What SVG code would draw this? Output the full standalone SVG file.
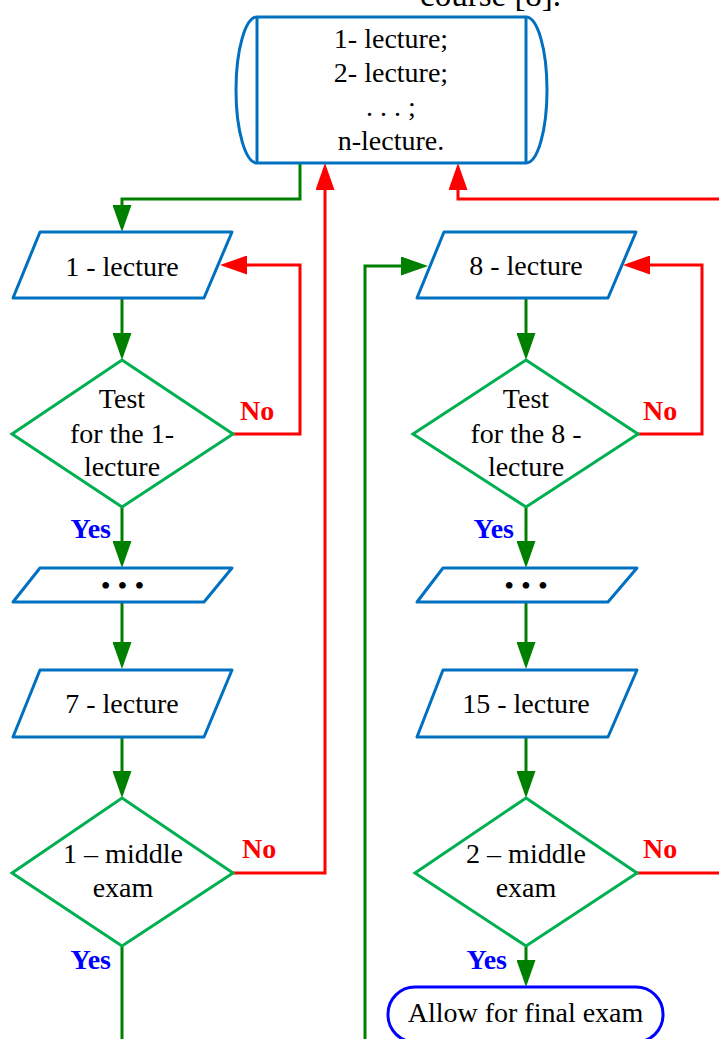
<svg xmlns="http://www.w3.org/2000/svg" width="719" height="1039" viewBox="0 0 719 1039">
<style>
  .t{font-family:"Liberation Serif","Times New Roman",serif;font-size:28px;fill:#000;text-anchor:middle}
  .no{font-family:"Liberation Serif","Times New Roman",serif;font-size:28px;font-weight:bold;fill:#FF0000}
  .yes{font-family:"Liberation Serif","Times New Roman",serif;font-size:28px;font-weight:bold;fill:#0000FF;text-anchor:end}
  .io{fill:#fff;stroke:#0070C0;stroke-width:3;stroke-linejoin:round}
  .dec{fill:#fff;stroke:#00B050;stroke-width:3}
  .g{fill:none;stroke:#008000;stroke-width:3}
  .r{fill:none;stroke:#FF0000;stroke-width:3}
</style>
<defs>
  <marker id="ag" viewBox="0 0 27 19" markerWidth="27" markerHeight="19" refX="22" refY="9.5" orient="auto" markerUnits="userSpaceOnUse">
    <path d="M0,0 L27,9.5 L0,19 z" fill="#008000"/>
  </marker>
  <marker id="ar" viewBox="0 0 27 19" markerWidth="27" markerHeight="19" refX="22" refY="9.5" orient="auto" markerUnits="userSpaceOnUse">
    <path d="M0,0 L27,9.5 L0,19 z" fill="#FF0000"/>
  </marker>
</defs>
<rect width="719" height="1039" fill="#fff"/>
<text x="420" y="6" style="font-family:'Liberation Serif','Times New Roman',serif;font-size:33px;fill:#000">course [8].</text>

<g id="connectors">
  <path class="g" d="M300,163 V199 H122 V227" marker-end="url(#ag)"/>
  <path class="g" d="M122,298 V355" marker-end="url(#ag)"/>
  <path class="r" d="M233,434 H300 V265 H225" marker-end="url(#ar)"/>
  <path class="g" d="M122,507 V563" marker-end="url(#ag)"/>
  <path class="g" d="M122,602 V664" marker-end="url(#ag)"/>
  <path class="g" d="M122,737 V793" marker-end="url(#ag)"/>
  <path class="r" d="M233,873 H325 V168" marker-end="url(#ar)"/>
  <path class="g" d="M122,946 V1040"/>
  <path class="g" d="M365,1040 V266 H423" marker-end="url(#ag)"/>
  <path class="r" d="M720,199 H458 V168" marker-end="url(#ar)"/>
  <path class="g" d="M526,298 V355" marker-end="url(#ag)"/>
  <path class="r" d="M638,434 H702 V265 H628" marker-end="url(#ar)"/>
  <path class="g" d="M526,507 V563" marker-end="url(#ag)"/>
  <path class="g" d="M526,602 V664" marker-end="url(#ag)"/>
  <path class="g" d="M526,737 V793" marker-end="url(#ag)"/>
  <path class="r" d="M637,873 H720"/>
  <path class="g" d="M526,946 V982" marker-end="url(#ag)"/>
</g>

<g id="lectures">
  <path class="io" d="M257,17 H526 A21,73 0 0 1 526,163 H257 A21,73 0 0 1 257,17 Z"/>
  <line x1="257" y1="17" x2="257" y2="163" stroke="#0070C0" stroke-width="3"/>
  <line x1="526" y1="17" x2="526" y2="163" stroke="#0070C0" stroke-width="3"/>
  <text class="t" x="391" y="48">1- lecture;</text>
  <text class="t" x="391" y="82">2- lecture;</text>
  <text class="t" x="391" y="116">. . . ;</text>
  <text class="t" x="391" y="150">n-lecture.</text>
</g>

<g id="lec1">
  <polygon class="io" points="40,232 232,232 204,298 13,298"/>
  <text class="t" x="122" y="276">1 - lecture</text>
</g>
<g id="test1">
  <polygon class="dec" points="122,360 233,434 122,507 12,434"/>
  <text class="t" x="122" y="408">Test</text>
  <text class="t" x="122" y="443">for the 1-</text>
  <text class="t" x="122" y="476">lecture</text>
  <text class="no" x="240" y="420">No</text>
  <text class="yes" x="111" y="538">Yes</text>
</g>
<g id="dots1">
  <polygon class="io" points="40,568 232,568 204,602 13,602"/>
  <text class="t" x="122.5" y="595">• • •</text>
</g>
<g id="lec7">
  <polygon class="io" points="40,670 232,670 204,737 13,737"/>
  <text class="t" x="122" y="713">7 - lecture</text>
</g>
<g id="mid1">
  <polygon class="dec" points="122,798 233,873 122,946 12,873"/>
  <text class="t" x="123" y="863">1 – middle</text>
  <text class="t" x="123" y="897">exam</text>
  <text class="no" x="242" y="858">No</text>
  <text class="yes" x="111" y="969">Yes</text>
</g>

<g id="lec8">
  <polygon class="io" points="444,232 636,232 608,298 417,298"/>
  <text class="t" x="526" y="275">8 - lecture</text>
</g>
<g id="test8">
  <polygon class="dec" points="526,360 638,434 526,507 413,434"/>
  <text class="t" x="526" y="408">Test</text>
  <text class="t" x="526" y="443">for the 8 -</text>
  <text class="t" x="526" y="476">lecture</text>
  <text class="no" x="643" y="420">No</text>
  <text class="yes" x="514" y="538">Yes</text>
</g>
<g id="dots2">
  <polygon class="io" points="443,568 637,568 608,602 417,602"/>
  <text class="t" x="526" y="595">• • •</text>
</g>
<g id="lec15">
  <polygon class="io" points="443,670 637,670 608,737 417,737"/>
  <text class="t" x="526" y="713">15 - lecture</text>
</g>
<g id="mid2">
  <polygon class="dec" points="526,798 637,873 526,946 415,873"/>
  <text class="t" x="526" y="863">2 – middle</text>
  <text class="t" x="526" y="897">exam</text>
  <text class="no" x="643" y="858">No</text>
  <text class="yes" x="507" y="969">Yes</text>
</g>
<g id="final">
  <rect x="388" y="987" width="275" height="55" rx="27" ry="27" fill="#fff" stroke="#0000FF" stroke-width="3"/>
  <text class="t" x="525.5" y="1022">Allow for final exam</text>
</g>
</svg>
